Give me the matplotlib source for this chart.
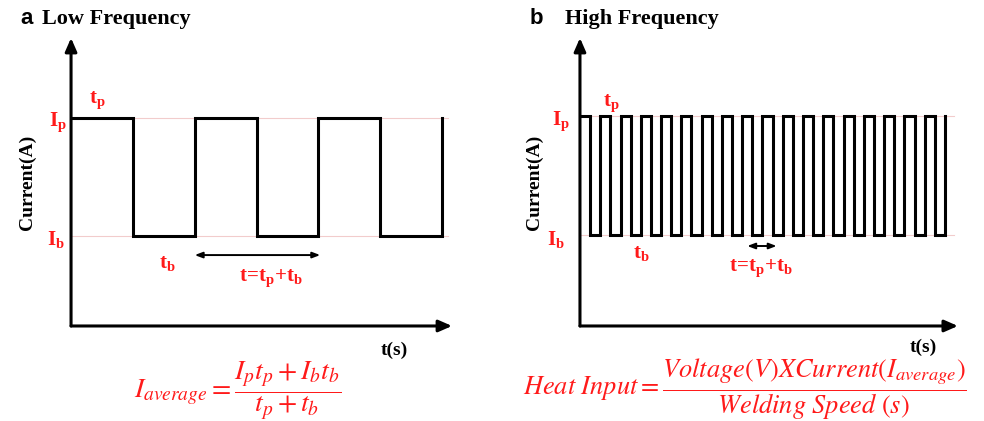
import matplotlib
matplotlib.use("Agg")
import matplotlib.pyplot as plt

plt.rcParams['mathtext.fontset'] = 'custom'
plt.rcParams['mathtext.rm'] = 'STIXGeneral'
plt.rcParams['mathtext.it'] = 'STIXGeneral:italic'
plt.rcParams['mathtext.bf'] = 'Liberation Serif:bold'

SERIF = 'Liberation Serif'
RED = '#ff1a1a'

# current levels (arbitrary units)
I_p = 1.0
I_b = 0.435

# switching instants, in units of one pulse width (tp = tb)
low_edges = [0, 1, 2, 3, 4, 5, 6]
low_levels = [I_p, I_b, I_p, I_b, I_p, I_b, I_p]

high_edges = [0, 1, 2, 3, 4, 5, 6, 7, 8, 9, 10, 11, 12, 13, 14, 15, 16, 17, 18,
              19, 20, 21, 22, 23, 24, 25, 26, 27, 28, 29, 30, 31, 32, 33, 34, 35, 36]
high_levels = [I_p, I_b] * 18 + [I_p]

fig = plt.figure(figsize=(9.84, 4.21), dpi=100)
ax_a = fig.add_axes([0.0722, 0.2257, 0.3872, 0.6841])
ax_b = fig.add_axes([0.5894, 0.2257, 0.3841, 0.6841])


def draw_panel(ax, edges, levels, xmax, ymax):
    ax.set_xlim(0, xmax)
    ax.set_ylim(0, ymax)
    ax.axis('off')
    for lev in (I_p, I_b):
        ax.plot([0, xmax * 0.99], [lev, lev], color='#f2cccc', lw=0.8, zorder=1)
    ax.plot(edges, levels, drawstyle='steps-post', color='black', lw=2.2,
            solid_joinstyle='miter', zorder=2)
    # axis arrows
    kw = dict(arrowstyle='-|>,head_length=0.8,head_width=0.35', color='black', lw=2.2,
              shrinkA=0, shrinkB=0)
    ax.annotate('', xy=(1, 0), xytext=(0, 0), xycoords='axes fraction', arrowprops=kw)
    ax.annotate('', xy=(0, 1), xytext=(0, 0), xycoords='axes fraction', arrowprops=kw)


draw_panel(ax_a, low_edges, low_levels, 6.162, 1.385)
draw_panel(ax_b, high_edges, high_levels, 37.28, 1.372)

lab = dict(color=RED, fontsize=15, ha='center', va='center', clip_on=False)
blk = dict(color='black', fontsize=14, ha='center', va='center', family=SERIF,
           weight='bold', clip_on=False)
period_label = r'$\mathbf{t}\!\mathbf{=}\!\mathbf{t_p}\mathbf{+}\mathbf{t_b}$'

# panel a labels
ax_a.text(-0.21, 0.98, r'$\mathbf{I_p}$', **lab)
ax_a.text(-0.24, 0.418, r'$\mathbf{I_b}$', **lab)
ax_a.text(0.42, 1.087, r'$\mathbf{t_p}$', **lab)
ax_a.text(1.55, 0.303, r'$\mathbf{t_b}$', **lab)
ax_a.annotate('', xy=(4.03, 0.341), xytext=(2.0, 0.341),
              arrowprops=dict(arrowstyle='<|-|>,head_length=0.45,head_width=0.17',
                              color='black', lw=1.4, shrinkA=0, shrinkB=0))
ax_a.text(3.24, 0.23, period_label, **lab)
ax_a.text(5.23, -0.115, 't(s)', **blk)
ax_a.text(-0.71, 0.69, 'Current(A)', rotation=90, **blk)

# panel b labels
ax_b.text(-1.87, 0.976, r'$\mathbf{I_p}$', **lab)
ax_b.text(-2.37, 0.414, r'$\mathbf{I_b}$', **lab)
ax_b.text(3.06, 1.062, r'$\mathbf{t_p}$', **lab)
ax_b.text(6.1, 0.348, r'$\mathbf{t_b}$', **lab)
ax_b.annotate('', xy=(19.4, 0.381), xytext=(16.5, 0.381),
              arrowprops=dict(arrowstyle='<|-|>,head_length=0.45,head_width=0.17',
                              color='black', lw=1.4, shrinkA=0, shrinkB=0))
ax_b.text(17.9, 0.276, period_label, **lab)
ax_b.text(33.9, -0.1, 't(s)', **blk)
ax_b.text(-4.5, 0.686, 'Current(A)', rotation=90, **blk)

# titles
fig.text(20 / 984, 1 - 19 / 421, 'a', family='Liberation Sans', weight='bold',
         fontsize=16, va='center')
fig.text(42 / 984, 1 - 19 / 421, 'Low Frequency', family=SERIF, weight='bold',
         fontsize=16, va='center')
fig.text(530 / 984, 1 - 19 / 421, 'b', family='Liberation Sans', weight='bold',
         fontsize=16, va='center')
fig.text(565 / 984, 1 - 19 / 421, 'High Frequency', family=SERIF, weight='bold',
         fontsize=16, va='center')

# formulas
fig.text(238 / 984, 1 - 390 / 421,
         r'$I_{average} = \dfrac{I_p t_p + I_b t_b}{t_p + t_b}$',
         color=RED, fontsize=20, ha='center', va='center')
fig.text(745 / 984, 1 - 389 / 421,
         r'$Heat\ Input = \dfrac{Voltage(V)XCurrent(I_{average})}{Welding\ Speed\ (s)}$',
         color=RED, fontsize=19, ha='center', va='center')

fig.savefig('out.png', dpi=100)
